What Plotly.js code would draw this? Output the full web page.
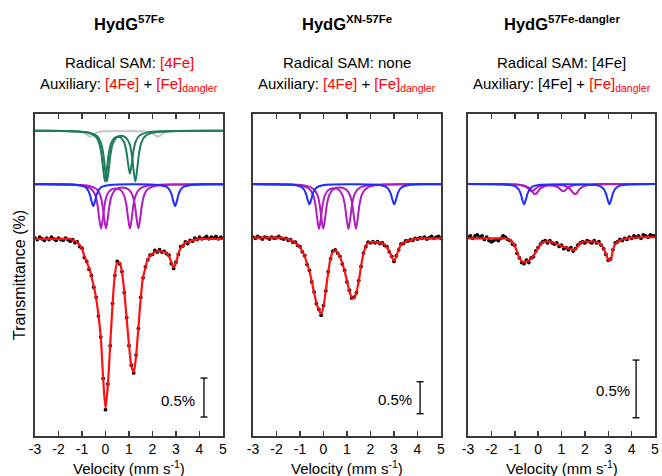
<!DOCTYPE html>
<html>
<head>
<meta charset="utf-8">
<script src="https://cdn.plot.ly/plotly-3.0.1.min.js"></script>
<style>html,body{margin:0;padding:0;background:#fff}#chart{width:662px;height:476px}</style>
</head>
<body>
<div id="chart"></div>
<script>
// ---------------- DATA (velocity in mm/s, transmittance in %) ----------------
const VELOCITY = [-3,-2.9,-2.8,-2.7,-2.6,-2.5,-2.4,-2.3,-2.2,-2.1,-2,-1.9,-1.8,-1.7,-1.6,-1.5,-1.4,-1.3,-1.2,-1.1,-1,-0.9,-0.8,-0.7,-0.6,-0.5,-0.4,-0.3,-0.2,-0.1,0,0.1,0.2,0.3,0.4,0.5,0.6,0.7,0.8,0.9,1,1.1,1.2,1.3,1.4,1.5,1.6,1.7,1.8,1.9,2,2.1,2.2,2.3,2.4,2.5,2.6,2.7,2.8,2.9,3,3.1,3.2,3.3,3.4,3.5,3.6,3.7,3.8,3.9,4,4.1,4.2,4.3,4.4,4.5,4.6,4.7,4.8,4.9,5];
const TICK_VALUES = [-3,-2,-1,0,1,2,3,4,5];
const TICK_LABELS = ['-3','-2','-1','0','1','2','3','4','5'];

// Panel 1: HydG 57Fe
const P1_DATA = [100.00,99.98,100.01,99.99,99.97,100.00,99.98,100.01,99.99,99.97,100.00,99.98,99.97,100.00,99.98,99.96,99.98,99.94,99.95,99.89,99.87,99.75,99.70,99.60,99.52,99.37,99.24,99.00,98.73,98.20,97.80,98.13,98.62,99.16,99.52,99.70,99.67,99.57,99.30,98.98,98.62,98.37,98.27,98.50,98.84,99.24,99.49,99.63,99.72,99.78,99.79,99.84,99.82,99.85,99.82,99.83,99.80,99.78,99.67,99.61,99.69,99.79,99.89,99.90,99.95,99.93,99.97,99.96,100.00,99.98,100.01,99.99,100.00,100.02,99.99,100.01,100.00,100.02,99.99,100.01,100.00];
const P1_FIT = [99.99,99.99,99.99,99.99,99.99,99.99,99.99,99.99,99.99,99.99,99.99,99.99,99.99,99.99,99.99,99.99,99.97,99.96,99.94,99.91,99.86,99.77,99.69,99.62,99.51,99.38,99.23,99.01,98.72,98.21,97.82,98.12,98.63,99.15,99.53,99.68,99.68,99.56,99.31,98.97,98.63,98.36,98.28,98.49,98.85,99.23,99.50,99.62,99.73,99.77,99.80,99.82,99.83,99.83,99.83,99.82,99.81,99.77,99.69,99.63,99.68,99.80,99.87,99.91,99.94,99.95,99.96,99.97,99.98,99.98,99.99,99.99,99.99,99.99,99.99,99.99,99.99,99.99,99.99,99.99,99.99];
const P1_GREY_V = [-3,-1.36,-1.06,-0.91,-0.81,-0.74,-0.66,-0.58,-0.51,-0.41,-0.26,0.04,0.8,1.53,1.83,1.98,2.08,2.15,2.23,2.31,2.38,2.48,2.63,2.93,5];
const P1_GREY_T = [100,99.994,99.985,99.97,99.951,99.934,99.923,99.934,99.951,99.97,99.985,99.994,99.997,99.994,99.985,99.97,99.951,99.934,99.923,99.934,99.951,99.97,99.985,99.994,100];
const P1_GREEN_A_V = [-3,-1.5,-0.72,-0.42,-0.27,-0.17,-0.10,-0.02,0.06,0.13,0.23,0.38,0.5,0.64,0.79,0.89,0.96,1.04,1.12,1.19,1.29,1.44,1.74,2.5,5];
const P1_GREEN_A_T = [99.998,99.994,99.972,99.925,99.841,99.694,99.509,99.35,99.506,99.689,99.831,99.907,99.923,99.913,99.852,99.733,99.58,99.449,99.583,99.74,99.864,99.935,99.975,99.993,99.998];
const P1_GREEN_B_V = [-3,-1.5,-0.64,-0.34,-0.19,-0.09,-0.02,0.06,0.14,0.21,0.31,0.46,0.66,0.87,1.02,1.12,1.19,1.27,1.35,1.42,1.52,1.67,1.97,2.7,5];
const P1_GREEN_B_T = [99.998,99.993,99.972,99.925,99.841,99.694,99.509,99.35,99.507,99.69,99.834,99.911,99.935,99.911,99.834,99.69,99.507,99.35,99.509,99.694,99.841,99.925,99.972,99.992,99.998];
const P1_BLUE_V = [-3,-2.02,-1.22,-0.92,-0.77,-0.67,-0.6,-0.52,-0.44,-0.37,-0.27,-0.12,0.18,1.22,2.26,2.56,2.71,2.81,2.88,2.96,3.04,3.11,3.21,3.36,3.66,4.46,5];
const P1_BLUE_T = [99.999,99.998,99.989,99.969,99.933,99.869,99.787,99.718,99.787,99.869,99.933,99.969,99.989,99.996,99.989,99.969,99.933,99.869,99.787,99.718,99.787,99.869,99.933,99.969,99.989,99.998,99.999];
const P1_MAG_A_V = [-3,-1.5,-0.89,-0.59,-0.44,-0.34,-0.27,-0.19,-0.11,-0.04,0.06,0.21,0.42,0.64,0.79,0.89,0.96,1.04,1.12,1.19,1.29,1.44,1.74,2.5,5];
const P1_MAG_A_T = [99.998,99.992,99.976,99.934,99.86,99.731,99.568,99.429,99.567,99.728,99.854,99.923,99.944,99.923,99.854,99.728,99.567,99.429,99.568,99.731,99.86,99.934,99.976,99.993,99.999];
const P1_MAG_B_V = [-3,-1.5,-0.68,-0.38,-0.23,-0.13,-0.06,0.02,0.1,0.17,0.27,0.42,0.71,1,1.15,1.25,1.32,1.4,1.48,1.55,1.65,1.8,2.1,2.9,5];
const P1_MAG_B_T = [99.998,99.994,99.976,99.935,99.861,99.732,99.57,99.43,99.568,99.73,99.856,99.927,99.955,99.927,99.856,99.73,99.568,99.43,99.57,99.732,99.861,99.935,99.976,99.994,99.998];

// Panel 2: HydG XN-57Fe
const P2_DATA = [100.01,99.99,100.02,100.00,99.98,100.01,100.00,99.98,100.01,99.99,100.00,100.02,99.99,99.98,99.99,99.96,99.97,99.93,99.93,99.88,99.86,99.78,99.72,99.58,99.49,99.31,99.15,98.97,98.88,98.79,98.94,99.17,99.47,99.67,99.79,99.81,99.76,99.71,99.59,99.49,99.31,99.18,99.06,99.07,99.14,99.33,99.55,99.76,99.86,99.93,99.92,99.94,99.92,99.94,99.91,99.92,99.88,99.86,99.78,99.71,99.63,99.72,99.81,99.90,99.91,99.95,99.95,99.97,99.96,99.99,99.98,100.00,99.99,100.01,99.98,100.00,100.02,99.99,100.01,100.02,99.99];
const P2_FIT = [100.00,100.00,100.00,100.00,100.00,100.00,100.00,100.00,100.00,100.00,100.00,100.00,100.00,100.00,99.98,99.97,99.96,99.94,99.92,99.89,99.85,99.79,99.71,99.60,99.48,99.32,99.14,98.98,98.87,98.81,98.93,99.18,99.46,99.68,99.78,99.80,99.77,99.70,99.60,99.48,99.32,99.17,99.07,99.06,99.15,99.32,99.56,99.75,99.87,99.92,99.93,99.93,99.93,99.93,99.92,99.91,99.89,99.85,99.79,99.70,99.64,99.71,99.82,99.89,99.92,99.94,99.96,99.96,99.97,99.98,99.99,99.99,99.99,99.99,99.99,99.99,99.99,99.99,99.99,99.99,99.99];
const P2_BLUE_V = [-3,-2.1,-1.3,-1,-0.85,-0.75,-0.68,-0.6,-0.52,-0.45,-0.35,-0.2,0.1,1.2,2.31,2.61,2.76,2.86,2.93,3.01,3.09,3.16,3.26,3.41,3.71,4.51,5];
const P2_BLUE_T = [99.999,99.997,99.988,99.965,99.924,99.852,99.761,99.683,99.761,99.852,99.924,99.965,99.988,99.996,99.988,99.965,99.924,99.852,99.761,99.683,99.761,99.852,99.924,99.965,99.988,99.997,99.998];
const P2_MAG_A_V = [-3,-1.5,-0.89,-0.59,-0.44,-0.34,-0.27,-0.19,-0.11,-0.04,0.06,0.21,0.43,0.66,0.81,0.91,0.98,1.06,1.14,1.21,1.31,1.46,1.76,2.5,5];
const P2_MAG_A_T = [99.998,99.99,99.971,99.919,99.828,99.67,99.47,99.299,99.469,99.666,99.821,99.906,99.932,99.906,99.821,99.666,99.469,99.299,99.47,99.67,99.828,99.919,99.971,99.991,99.999];
const P2_MAG_B_V = [-3,-1.5,-0.71,-0.41,-0.26,-0.16,-0.09,-0.01,0.07,0.14,0.24,0.39,0.69,0.98,1.13,1.23,1.3,1.38,1.46,1.53,1.63,1.78,2.08,2.9,5];
const P2_MAG_B_T = [99.998,99.993,99.971,99.92,99.829,99.671,99.472,99.301,99.47,99.669,99.823,99.91,99.945,99.91,99.823,99.669,99.47,99.301,99.472,99.671,99.829,99.92,99.971,99.993,99.998];

// Panel 3: HydG 57Fe-dangler
const P3_DATA = [100.01,100.02,100.00,100.02,100.03,100.01,100.02,99.99,100.01,99.98,99.97,99.98,99.99,99.98,100.00,100.02,100.01,99.99,99.98,99.95,99.94,99.87,99.83,99.79,99.78,99.81,99.79,99.83,99.84,99.89,99.92,99.95,99.97,99.98,99.96,99.98,99.96,99.95,99.96,99.93,99.94,99.91,99.92,99.90,99.92,99.89,99.91,99.94,99.96,99.97,99.96,99.98,99.97,99.96,99.98,99.96,99.97,99.94,99.91,99.86,99.81,99.82,99.90,99.96,99.97,99.99,99.98,100.00,99.99,100.01,100.00,100.02,100.01,100.02,100.00,100.03,100.02,100.01,100.03,100.02,100.02];
const P3_FIT = [100.000,100.000,100.000,100.000,100.000,100.000,100.000,100.000,100.000,100.000,100.000,100.000,100.000,100.000,100.000,100.000,100.000,99.994,99.985,99.968,99.933,99.881,99.829,99.803,99.795,99.799,99.808,99.821,99.847,99.881,99.916,99.946,99.964,99.972,99.972,99.972,99.968,99.959,99.951,99.942,99.933,99.925,99.920,99.916,99.907,99.899,99.907,99.933,99.959,99.968,99.972,99.972,99.972,99.972,99.972,99.968,99.959,99.942,99.912,99.864,99.818,99.815,99.899,99.951,99.972,99.981,99.990,99.994,99.998,100.003,100.003,100.003,100.007,100.007,100.007,100.007,100.011,100.011,100.011,100.011,100.011];
const P3_BLUE_V = [-3,-2.1,-1.3,-1,-0.85,-0.75,-0.68,-0.6,-0.52,-0.45,-0.35,-0.2,0.1,1.2,2.35,2.65,2.8,2.9,2.97,3.05,3.13,3.2,3.3,3.45,3.75,4.55,5];
const P3_BLUE_T = [99.999,99.998,99.993,99.981,99.958,99.918,99.867,99.824,99.867,99.918,99.958,99.981,99.993,99.998,99.993,99.981,99.958,99.918,99.867,99.824,99.867,99.918,99.958,99.981,99.993,99.998,99.999];
const P3_MAG_A_V = [-3,-1.5,-0.97,-0.67,-0.52,-0.42,-0.35,-0.27,-0.19,-0.12,-0.02,0.13,0.4,0.68,0.83,0.93,1,1.08,1.16,1.23,1.33,1.48,1.78,2.6,5];
const P3_MAG_A_T = [100,99.999,99.995,99.987,99.975,99.96,99.946,99.937,99.945,99.958,99.973,99.984,99.99,99.984,99.973,99.958,99.945,99.937,99.946,99.96,99.975,99.987,99.995,99.999,100];
const P3_MAG_B_V = [-3,-1.5,-0.83,-0.53,-0.38,-0.28,-0.21,-0.13,-0.05,0.02,0.12,0.27,0.72,1.18,1.33,1.43,1.5,1.58,1.66,1.73,1.83,1.98,2.28,3.1,5];
const P3_MAG_B_T = [100,99.998,99.993,99.982,99.965,99.943,99.923,99.911,99.923,99.942,99.964,99.981,99.991,99.981,99.964,99.942,99.923,99.911,99.923,99.943,99.965,99.982,99.993,99.998,100];

const PANEL_TITLES = ['<b>HydG<sup>57Fe</sup></b>', '<b>HydG<sup>XN-57Fe</sup></b>', '<b>HydG<sup>57Fe-dangler</sup></b>'];
const RSAM_LINES = ['Radical SAM: <span style="color:#ff0000">[4Fe]</span>', 'Radical SAM: none', 'Radical SAM: [4Fe]'];
const AUX_LINES = [
  'Auxiliary: <span style="color:#ff0000">[4Fe]</span> + <span style="color:#ff0000">[Fe]<sub>dangler</sub></span>',
  'Auxiliary: <span style="color:#ff0000">[4Fe]</span> + <span style="color:#ff0000">[Fe]<sub>dangler</sub></span>',
  'Auxiliary: [4Fe] + <span style="color:#ff0000">[Fe]<sub>dangler</sub></span>'
];
const SCALE_LABEL = '0.5%';
const SCALE_SPAN = 0.5;

// ---------------- STYLE / LAYOUT ----------------
const C_GREEN = '#1e7b5e', C_GREY = '#c6c6c6', C_BLUE = '#1f2cff', C_MAG = '#b11cbf', C_RED = '#ff1010';
const FONT = 'Liberation Sans, Arial, Helvetica, sans-serif';
const W = 662, H = 476;
const XDOM = [[35, 223], [253, 441], [468, 655]];
const YDOM = [114, 436];
const YRANGES = [[97.462, 101.59], [96.902, 101.933], [98.287, 101.077]];
const OFF_UPPER = [1.376, 0, 0];
const OFF_MID = [0.692, 0.839, 0.4705];
const SCALE_BAR = [ {x: 4.19, top: 98.205}, {x: 4.11, top: 97.75}, {x: 4.19, top: 98.945} ];
const SCALE_TXT = [ {x: 3.9, y: 97.923}, {x: 3.86, y: 97.48}, {x: 4.0, y: 98.68} ];

const traces = [];
function ax(i){ return i === 0 ? '' : String(i + 1); }
function line(v, t, off, color, w, i){
  traces.push({x: v, y: t.map(a => a + off), mode: 'lines', line: {color: color, width: w, shape: 'spline', smoothing: 0.9},
    xaxis: 'x' + ax(i), yaxis: 'y' + ax(i), hoverinfo: 'skip'});
}
function dataPts(d, i){
  traces.push({x: VELOCITY, y: d, mode: 'markers', marker: {color: '#000', size: 3.8},
    xaxis: 'x' + ax(i), yaxis: 'y' + ax(i), hoverinfo: 'skip'});
}

// Panel 1
line(P1_GREY_V, P1_GREY_T, OFF_UPPER[0], C_GREY, 2, 0);
line(P1_GREEN_A_V, P1_GREEN_A_T, OFF_UPPER[0], C_GREEN, 2, 0);
line(P1_GREEN_B_V, P1_GREEN_B_T, OFF_UPPER[0], C_GREEN, 2, 0);
line(P1_MAG_A_V, P1_MAG_A_T, OFF_MID[0], C_MAG, 2, 0);
line(P1_MAG_B_V, P1_MAG_B_T, OFF_MID[0], C_MAG, 2, 0);
line(P1_BLUE_V, P1_BLUE_T, OFF_MID[0], C_BLUE, 2, 0);
dataPts(P1_DATA, 0);
line(VELOCITY, P1_FIT, 0, C_RED, 2.2, 0);
// Panel 2
line(P2_MAG_A_V, P2_MAG_A_T, OFF_MID[1], C_MAG, 2, 1);
line(P2_MAG_B_V, P2_MAG_B_T, OFF_MID[1], C_MAG, 2, 1);
line(P2_BLUE_V, P2_BLUE_T, OFF_MID[1], C_BLUE, 2, 1);
dataPts(P2_DATA, 1);
line(VELOCITY, P2_FIT, 0, C_RED, 2.2, 1);
// Panel 3
line(P3_MAG_A_V, P3_MAG_A_T, OFF_MID[2], C_MAG, 2, 2);
line(P3_MAG_B_V, P3_MAG_B_T, OFF_MID[2], C_MAG, 2, 2);
line(P3_BLUE_V, P3_BLUE_T, OFF_MID[2], C_BLUE, 2, 2);
dataPts(P3_DATA, 2);
line(VELOCITY, P3_FIT, 0, C_RED, 2.2, 2);

// scale bars
SCALE_BAR.forEach((b, i) => {
  traces.push({x: [b.x, b.x], y: [b.top, b.top - SCALE_SPAN], mode: 'lines+markers',
    line: {color: '#000', width: 1.3},
    marker: {symbol: 'line-ew', size: 5, line: {color: '#000', width: 1.3}},
    xaxis: 'x' + ax(i), yaxis: 'y' + ax(i), hoverinfo: 'skip'});
});

const layout = {
  width: W, height: H, margin: {l: 0, r: 0, t: 0, b: 0},
  paper_bgcolor: '#fff', plot_bgcolor: '#fff', showlegend: false,
  font: {family: FONT, color: '#000'},
  annotations: []
};
const py = p => 1 - p / H;
for (let i = 0; i < 3; i++) {
  const xa = {
    domain: [XDOM[i][0] / W, XDOM[i][1] / W], range: [-3, 5], anchor: 'y' + ax(i),
    tickmode: 'array', tickvals: TICK_VALUES, ticktext: TICK_LABELS,
    ticks: 'inside', ticklen: 5, tickwidth: 1.5, tickcolor: '#3a3a3a',
    showline: true, linecolor: '#3a3a3a', linewidth: 1.6, mirror: 'ticks',
    showgrid: false, zeroline: false, tickfont: {size: 14, family: FONT, color: '#000'}
  };
  const ya = {
    domain: [1 - YDOM[1] / H, 1 - YDOM[0] / H], range: YRANGES[i], anchor: 'x' + ax(i),
    showline: true, linecolor: '#3a3a3a', linewidth: 1.6, mirror: true,
    ticks: '', showticklabels: false, showgrid: false, zeroline: false
  };
  layout['xaxis' + ax(i)] = xa;
  layout['yaxis' + ax(i)] = ya;
  const cx = (XDOM[i][0] + XDOM[i][1]) / 2 / W;
  layout.annotations.push({text: PANEL_TITLES[i], x: cx, y: py(23), xref: 'paper', yref: 'paper', showarrow: false, font: {size: 16.5, family: FONT}, xanchor: 'center', yanchor: 'middle'});
  layout.annotations.push({text: RSAM_LINES[i], x: cx, y: py(63), xref: 'paper', yref: 'paper', showarrow: false, font: {size: 15, family: FONT}, xanchor: 'center', yanchor: 'middle'});
  layout.annotations.push({text: AUX_LINES[i], x: cx, y: py(84), xref: 'paper', yref: 'paper', showarrow: false, font: {size: 15, family: FONT}, xanchor: 'center', yanchor: 'middle'});
  layout.annotations.push({text: 'Velocity (mm s<sup>-1</sup>)', x: cx, y: 0, xref: 'paper', yref: 'paper', showarrow: false, font: {size: 15, family: FONT}, xanchor: 'center', yanchor: 'bottom', yshift: -3});
  layout.annotations.push({text: SCALE_LABEL, x: SCALE_TXT[i].x, y: SCALE_TXT[i].y, xref: 'x' + ax(i), yref: 'y' + ax(i), showarrow: false, font: {size: 15, family: FONT}, xanchor: 'right', yanchor: 'middle'});
}
layout.annotations.push({text: 'Transmittance (%)', x: 19 / W, y: py(275), xref: 'paper', yref: 'paper', showarrow: false, textangle: -90, font: {size: 16, family: FONT}, xanchor: 'center', yanchor: 'middle'});

Plotly.newPlot('chart', traces, layout, {staticPlot: true, displayModeBar: false});
</script>
</body>
</html>
